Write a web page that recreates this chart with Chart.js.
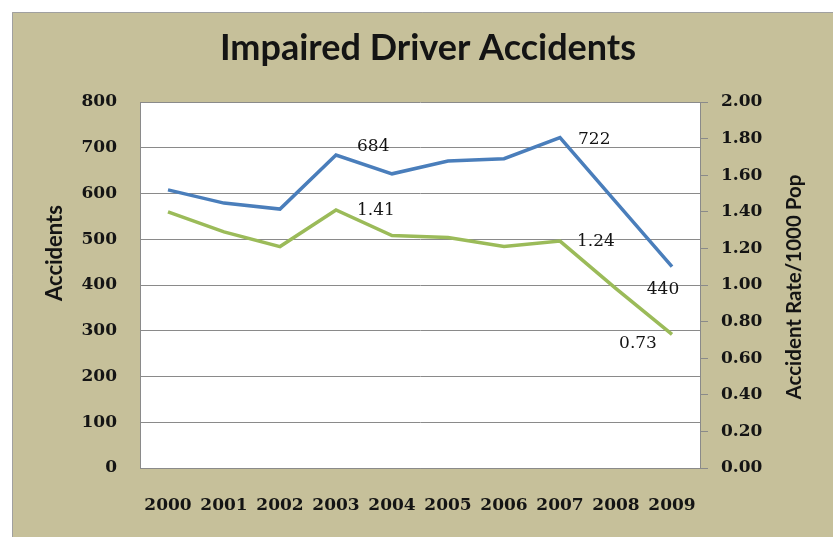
<!DOCTYPE html>
<html>
<head>
<meta charset="utf-8">
<script src="https://cdn.jsdelivr.net/npm/chart.js@4.4.1/dist/chart.umd.min.js"></script>
<style>
  html, body { margin: 0; padding: 0; background: #ffffff; }
  #wrap { position: relative; width: 833px; height: 537px; }
</style>
</head>
<body>
<div id="wrap"><canvas id="accChart"></canvas></div>
<script>
// data
const years = ['2000', '2001', '2002', '2003', '2004', '2005', '2006', '2007', '2008', '2009'];
const accidents = [608, 579, 566, 684, 643, 671, 676, 722, 581, 440];
const ratePer1000 = [1.40, 1.29, 1.21, 1.41, 1.27, 1.26, 1.21, 1.24, 0.98, 0.73];
const accidentLabelIdx = [3, 7, 9];
const rateLabelIdx = [3, 7, 9];

const BLUE = '#4a7ebb';
const GREEN = '#9bbb59';
const BG = '#c6c09a';
const GRID = '#8a8a8a';
const INK = '#141414';
const tickFont = { family: 'DejaVu Serif', size: 17, weight: 'bold' };

// where Excel put each value label, relative to its point
const labelOffsets = {
  0: { 3: [21, -8, 'left'], 7: [18, 2, 'left'], 9: [-9, 23, 'center'] },
  1: { 3: [21, 1, 'left'], 7: [17, 0, 'left'], 9: [-34, 9, 'center'] }
};

// page background, white plot area, axis titles
const frame = {
  id: 'frame',
  beforeDraw(chart) {
    const ctx = chart.ctx, a = chart.chartArea;
    ctx.save();
    ctx.fillStyle = BG;
    ctx.fillRect(12, 12, chart.width - 12, chart.height - 12);
    ctx.strokeStyle = '#a0a0a0';
    ctx.lineWidth = 1;
    ctx.beginPath();
    ctx.moveTo(12.5, chart.height); ctx.lineTo(12.5, 12.5); ctx.lineTo(chart.width, 12.5);
    ctx.stroke();
    ctx.fillStyle = '#ffffff';
    ctx.fillRect(a.left, a.top, a.right - a.left, a.bottom - a.top);
    ctx.restore();
  },
  afterDraw(chart) {
    const ctx = chart.ctx;
    ctx.save();
    ctx.fillStyle = INK;
    ctx.font = 'bold 22px Lato';
    ctx.textAlign = 'center';
    ctx.textBaseline = 'middle';
    ctx.translate(55, 253);
    ctx.rotate(-Math.PI / 2);
    ctx.fillText('Accidents', 0, 0);
    ctx.restore();
    ctx.save();
    ctx.fillStyle = INK;
    ctx.font = 'bold 20.5px Lato';
    ctx.textAlign = 'center';
    ctx.textBaseline = 'middle';
    ctx.translate(794, 287);
    ctx.rotate(-Math.PI / 2);
    ctx.fillText('Accident Rate/1000 Pop', 0, 0);
    ctx.restore();
  }
};

const valueLabels = {
  id: 'valueLabels',
  afterDatasetsDraw(chart) {
    const ctx = chart.ctx;
    ctx.save();
    ctx.font = '17px "DejaVu Serif"';
    ctx.fillStyle = INK;
    ctx.textBaseline = 'middle';
    chart.data.datasets.forEach((ds, di) => {
      const meta = chart.getDatasetMeta(di);
      ds.labelIdx.forEach(i => {
        const pt = meta.data[i];
        const off = labelOffsets[di][i];
        const txt = di === 0 ? String(ds.data[i]) : ds.data[i].toFixed(2);
        ctx.textAlign = off[2];
        ctx.fillText(txt, pt.x + off[0], pt.y + off[1]);
      });
    });
    ctx.restore();
  }
};

new Chart(document.getElementById('accChart').getContext('2d'), {
  type: 'line',
  data: {
    labels: years,
    datasets: [
      { label: 'Accidents', data: accidents, labelIdx: accidentLabelIdx, yAxisID: 'y',
        borderColor: BLUE, borderWidth: 3.5, pointRadius: 0, tension: 0, fill: false },
      { label: 'Accident Rate/1000 Pop', data: ratePer1000, labelIdx: rateLabelIdx, yAxisID: 'y1',
        borderColor: GREEN, borderWidth: 3.5, pointRadius: 0, tension: 0, fill: false }
    ]
  },
  options: {
    responsive: true,
    maintainAspectRatio: false,
    animation: false,
    layout: { padding: { top: 12, left: 23, right: 0, bottom: 0 } },
    plugins: {
      legend: { display: false },
      tooltip: { enabled: false },
      title: {
        display: true,
        text: 'Impaired Driver Accidents',
        color: INK,
        font: { family: 'Lato', size: 36, weight: 'bold', lineHeight: 1.2 },
        padding: { top: 15, bottom: 31.8 }
      }
    },
    scales: {
      x: {
        offset: true,
        grid: { display: false, drawTicks: false },
        border: { display: true, color: GRID },
        ticks: { color: INK, font: tickFont, padding: 27, maxRotation: 0, autoSkip: false },
        afterFit(s) { s.height = 69; }
      },
      y: {
        position: 'left',
        min: 0, max: 800,
        grid: { color: GRID, drawTicks: false },
        border: { display: true, color: GRID },
        ticks: { stepSize: 100, color: INK, font: tickFont, padding: 23 },
        afterFit(s) { s.width = 117; }
      },
      y1: {
        position: 'right',
        min: 0, max: 2,
        grid: { drawOnChartArea: false, drawTicks: true, tickLength: 8, color: GRID },
        border: { display: true, color: GRID },
        ticks: { stepSize: 0.2, color: INK, font: tickFont, padding: 13,
                 callback: v => v.toFixed(2) },
        afterFit(s) { s.width = 133; }
      }
    }
  },
  plugins: [frame, valueLabels]
});
</script>
</body>
</html>
